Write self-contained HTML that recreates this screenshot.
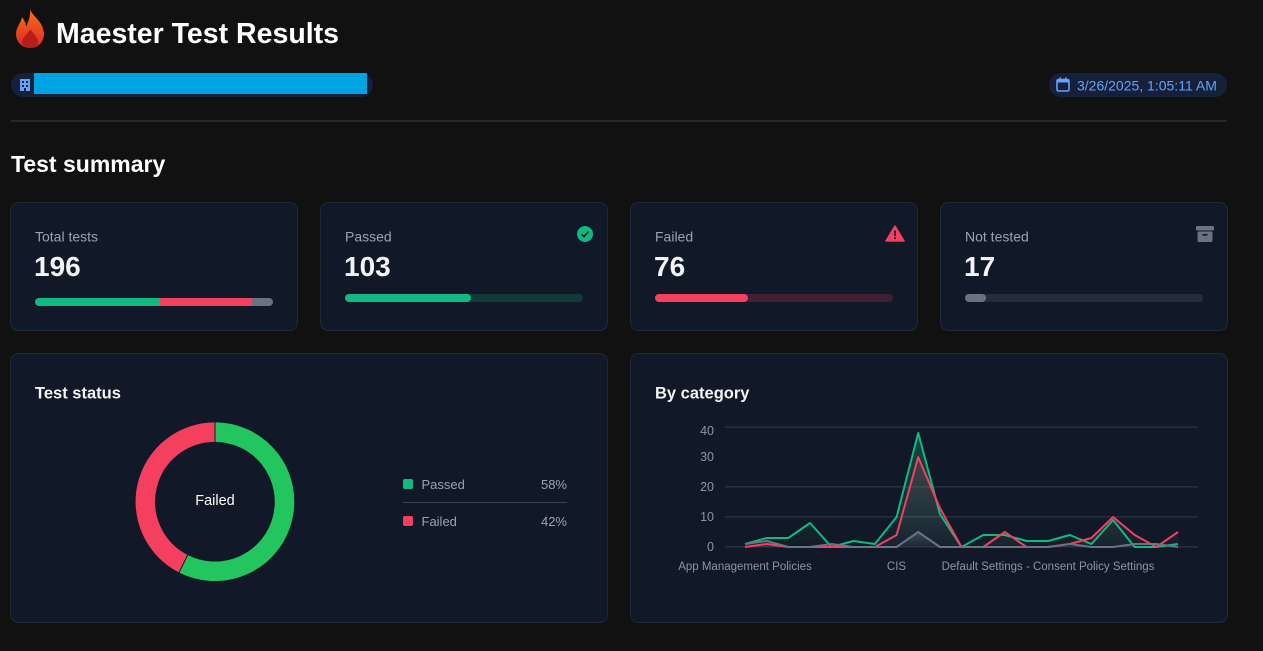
<!DOCTYPE html>
<html><head><meta charset="utf-8"><style>
html,body{margin:0;padding:0;background:#111111;}
body{width:1263px;height:651px;overflow:hidden;}
svg{display:block;}
text{font-family:"Liberation Sans",sans-serif;}
</style></head><body>
<svg width="1263" height="651" viewBox="0 0 1263 651" xmlns="http://www.w3.org/2000/svg">
<defs>
<linearGradient id="flame" x1="0" y1="0" x2="0" y2="1">
<stop offset="0" stop-color="#f97316"/><stop offset="1" stop-color="#dc2626"/></linearGradient>
<linearGradient id="gfill" x1="0" y1="0" x2="0" y2="1">
<stop offset="0" stop-color="#10b981" stop-opacity="0.3"/><stop offset="1" stop-color="#10b981" stop-opacity="0.03"/></linearGradient>
<linearGradient id="rfill" x1="0" y1="0" x2="0" y2="1">
<stop offset="0" stop-color="#f43f5e" stop-opacity="0.22"/><stop offset="1" stop-color="#9ca3af" stop-opacity="0.04"/></linearGradient>
<linearGradient id="yfill" x1="0" y1="0" x2="0" y2="1">
<stop offset="0" stop-color="#9ca3af" stop-opacity="0.25"/><stop offset="1" stop-color="#9ca3af" stop-opacity="0.02"/></linearGradient>
</defs>
<rect width="1263" height="651" fill="#111111"/>

<!-- Flame -->
<path d="M30 9 C32 16 44 22 44 34 C44 42 38 48 30 48 C22 48 16 42 16 34 C16 27 21 23 22 17 C25 21 26 24 26 27 C28 22 31 16 30 9 Z" fill="url(#flame)"/>
<path d="M30 29 C34 34 38 38 38 42 C38 46 34 48 30 48 C26 48 22 46 22 42 C22 38 27 35 30 29 Z" fill="#b91c1c"/>
<text x="56" y="43" font-size="28.5" font-weight="bold" fill="#ffffff">Maester Test Results</text>

<!-- Tenant pill -->
<rect x="11" y="73" width="362" height="24" rx="12" fill="#16203a"/>
<rect x="20" y="79" width="10" height="12" fill="#60a5fa"/>
<rect x="22" y="81" width="2" height="2" fill="#16203a"/><rect x="26" y="81" width="2" height="2" fill="#16203a"/>
<rect x="22" y="85" width="2" height="2" fill="#16203a"/><rect x="26" y="85" width="2" height="2" fill="#16203a"/>
<rect x="24" y="88" width="2" height="3" fill="#16203a"/>
<rect x="34" y="73" width="333" height="21" fill="#00a4e4"/>

<!-- Date pill -->
<rect x="1049" y="73" width="178" height="24" rx="12" fill="#16203a"/>
<rect x="1057" y="79.5" width="12" height="11.5" rx="1.5" fill="none" stroke="#60a5fa" stroke-width="1.6"/>
<rect x="1057" y="79.5" width="12" height="3" fill="#60a5fa"/>
<rect x="1059.5" y="77.5" width="1.6" height="3" fill="#60a5fa"/><rect x="1065" y="77.5" width="1.6" height="3" fill="#60a5fa"/>
<text x="1077" y="90.5" font-size="14" fill="#60a5fa">3/26/2025, 1:05:11 AM</text>

<rect x="11" y="120.5" width="1216" height="1" fill="#3d3d3d"/>

<text x="11" y="172" font-size="23" font-weight="bold" fill="#ffffff">Test summary</text>

<!-- Summary cards -->
<g stroke="#1f2937" stroke-width="1" fill="#111827">
<rect x="10.5" y="202.5" width="287" height="128" rx="8"/>
<rect x="320.5" y="202.5" width="287" height="128" rx="8"/>
<rect x="630.5" y="202.5" width="287" height="128" rx="8"/>
<rect x="940.5" y="202.5" width="287" height="128" rx="8"/>
</g>
<g font-size="14" fill="#9ca3af">
<text x="35" y="241.5">Total tests</text>
<text x="345" y="241.5">Passed</text>
<text x="655" y="241.5">Failed</text>
<text x="965" y="241.5">Not tested</text>
</g>
<g font-size="28" font-weight="bold" fill="#f3f4f6">
<text x="34" y="276">196</text>
<text x="344" y="276">103</text>
<text x="654" y="276">76</text>
<text x="964" y="276">17</text>
</g>
<!-- bars -->
<clipPath id="b1"><rect x="35" y="298" width="238" height="8" rx="4"/></clipPath>
<g clip-path="url(#b1)">
<rect x="35" y="298" width="125" height="8" fill="#10b981"/>
<rect x="160" y="298" width="92" height="8" fill="#f43f5e"/>
<rect x="252" y="298" width="21" height="8" fill="#6b7280"/>
</g>
<rect x="345" y="294" width="238" height="8" rx="4" fill="#0f3a38"/>
<rect x="345" y="294" width="126" height="8" rx="4" fill="#10b981"/>
<rect x="655" y="294" width="238" height="8" rx="4" fill="#3f1f33"/>
<rect x="655" y="294" width="93" height="8" rx="4" fill="#f43f5e"/>
<rect x="965" y="294" width="238" height="8" rx="4" fill="#252c3c"/>
<rect x="965" y="294" width="21" height="8" rx="4" fill="#6b7280"/>
<!-- icons -->
<circle cx="585" cy="234" r="8" fill="#10b981"/>
<path d="M581.5 234.2 L584 236.7 L588.5 231.5" fill="none" stroke="#0b2a24" stroke-width="1.6"/>
<path d="M895 226 L904 241 L886 241 Z" fill="#f43f5e" stroke="#f43f5e" stroke-width="1.5" stroke-linejoin="round"/>
<rect x="894.2" y="230.5" width="1.7" height="5.5" fill="#111827"/>
<rect x="894.2" y="237.3" width="1.7" height="1.7" fill="#111827"/>
<rect x="1196" y="226" width="18" height="4.5" rx="1" fill="#6b7280"/>
<rect x="1197.5" y="231.5" width="15" height="10.5" rx="1.5" fill="#6b7280"/>
<rect x="1202.5" y="234" width="5" height="1.6" fill="#111827"/>

<!-- Bottom cards -->
<rect x="10.5" y="353.5" width="597" height="269" rx="8" fill="#111827" stroke="#1f2937"/>
<rect x="630.5" y="353.5" width="597" height="269" rx="8" fill="#111827" stroke="#1f2937"/>
<text x="35" y="398.5" font-size="16.5" font-weight="bold" fill="#f3f4f6">Test status</text>
<text x="655" y="398.5" font-size="16.5" font-weight="bold" fill="#f3f4f6">By category</text>

<!-- Donut -->
<path d="M215 432.1 A69.6 69.6 0 1 1 183.3 563.7" fill="none" stroke="#22c55e" stroke-width="19.5"/>
<path d="M183.3 563.7 A69.6 69.6 0 0 1 215 432.1" fill="none" stroke="#f43f5e" stroke-width="19.5"/>
<line x1="215" y1="422" x2="215" y2="442" stroke="#111827" stroke-width="1"/>
<line x1="188" y1="554.5" x2="179" y2="572.5" stroke="#111827" stroke-width="1"/>
<text x="215" y="505" font-size="14.5" fill="#ffffff" text-anchor="middle">Failed</text>

<!-- Legend -->
<rect x="403" y="479" width="10" height="10" rx="2" fill="#10b981"/>
<text x="421.5" y="489" font-size="13" fill="#9ca3af">Passed</text>
<text x="567" y="489" font-size="13" fill="#9ca3af" text-anchor="end">58%</text>
<rect x="403" y="502" width="164" height="1" fill="#374151"/>
<rect x="403" y="516" width="10" height="10" rx="2" fill="#f43f5e"/>
<text x="421.5" y="526" font-size="13" fill="#9ca3af">Failed</text>
<text x="567" y="526" font-size="13" fill="#9ca3af" text-anchor="end">42%</text>

<!-- Line chart -->
<g fill="#2b3445">
<rect x="725" y="426.5" width="473" height="1.3"/>
<rect x="725" y="486.2" width="473" height="1.3"/>
<rect x="725" y="516.2" width="473" height="1.3"/>
<rect x="725" y="546.2" width="473" height="1.3"/>
</g>
<g font-size="12.5" fill="#8c95a8" text-anchor="end">
<text x="714" y="435">40</text>
<text x="714" y="461">30</text>
<text x="714" y="491">20</text>
<text x="714" y="521">10</text>
<text x="714" y="551">0</text>
</g>
<g font-size="11.5" fill="#8c95a8" text-anchor="middle">
<text x="745" y="570">App Management Policies</text>
<text x="896.5" y="570">CIS</text>
<text x="1048" y="570">Default Settings - Consent Policy Settings</text>
</g>
<!-- fills -->
<path d="M745 544 L766.7 538 L788.3 538 L810 523 L831.6 547 L853.3 541 L874.9 544 L896.6 517 L918.2 433 L939.9 514 L961.5 547 L983.2 535 L1004.8 535 L1026.5 541 L1048.1 541 L1069.8 535 L1091.4 544 L1113.1 520 L1134.7 547 L1156.4 547 L1178 544 L1178 547 L745 547 Z" fill="url(#gfill)"/>
<path d="M745 547 L766.7 544 L788.3 547 L810 547 L831.6 547 L853.3 547 L874.9 547 L896.6 535 L918.2 457 L939.9 508 L961.5 547 L983.2 547 L1004.8 532 L1026.5 547 L1048.1 547 L1069.8 544 L1091.4 538 L1113.1 517 L1134.7 535 L1156.4 547 L1178 532 L1178 547 L745 547 Z" fill="url(#rfill)"/>
<path d="M745 544 L766.7 541 L788.3 547 L810 547 L831.6 544 L853.3 547 L874.9 547 L896.6 547 L918.2 532 L939.9 547 L961.5 547 L1178 547 L745 547 Z" fill="url(#yfill)"/>
<!-- lines -->
<g fill="none" stroke-width="2" stroke-linejoin="round">
<polyline stroke="#10b981" points="745,544 766.7,538 788.3,538 810,523 831.6,547 853.3,541 874.9,544 896.6,517 918.2,433 939.9,514 961.5,547 983.2,535 1004.8,535 1026.5,541 1048.1,541 1069.8,535 1091.4,544 1113.1,520 1134.7,547 1156.4,547 1178,544"/>
<polyline stroke="#f43f5e" points="745,547 766.7,544 788.3,547 810,547 831.6,547 853.3,547 874.9,547 896.6,535 918.2,457 939.9,508 961.5,547 983.2,547 1004.8,532 1026.5,547 1048.1,547 1069.8,544 1091.4,538 1113.1,517 1134.7,535 1156.4,547 1178,532"/>
<polyline stroke="#6b7280" points="745,544 766.7,541 788.3,547 810,547 831.6,544 853.3,547 874.9,547 896.6,547 918.2,532 939.9,547 961.5,547 983.2,547 1004.8,547 1026.5,547 1048.1,547 1069.8,544 1091.4,547 1113.1,547 1134.7,544 1156.4,544 1178,547"/>
</g>
</svg>
</body></html>
